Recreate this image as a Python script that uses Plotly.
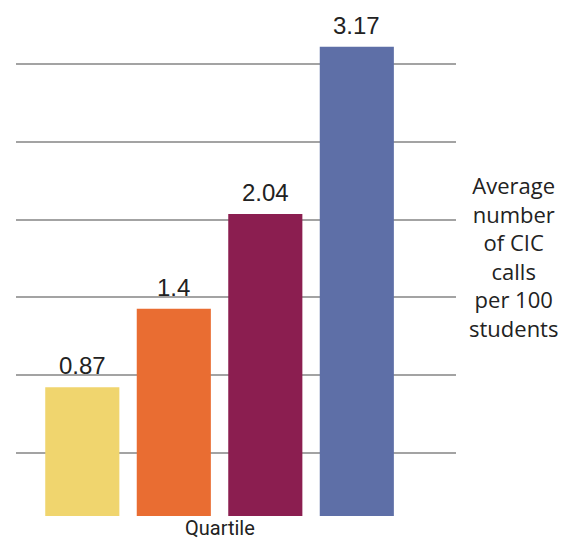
import plotly.graph_objects as go

categories = ["Q1", "Q2", "Q3", "Q4"]
values = [0.87, 1.4, 2.04, 3.17]
value_labels = ["0.87", "1.4", "2.04", "3.17"]
colors = ["#F0D56E", "#E96D32", "#8B1E50", "#5E6FA7"]

fig = go.Figure(
    go.Bar(
        x=categories,
        y=values,
        marker=dict(color=colors, line=dict(width=0)),
        width=0.81,
        hoverinfo="skip",
    )
)

annotations = []
for c, v, t in zip(categories, values, value_labels):
    annotations.append(
        dict(
            text=t,
            x=c,
            y=v,
            xref="x",
            yref="y",
            xanchor="center",
            yanchor="bottom",
            yshift=6,
            showarrow=False,
            font=dict(family="Liberation Sans, Arial, sans-serif", size=24, color="#222222"),
        )
    )

annotations += [
    dict(
        text="Quartile",
        x=1.5,
        xref="x",
        y=0,
        yref="paper",
        xanchor="center",
        yanchor="top",
        yshift=2,
        showarrow=False,
        font=dict(family="Roboto, sans-serif", size=20, color="#222222"),
    ),
    dict(
        text="Average<br>number<br>of CIC<br>calls<br>per 100<br>students",
        x=1.13,
        xref="paper",
        y=0.513,
        yref="paper",
        xanchor="center",
        yanchor="middle",
        align="center",
        showarrow=False,
        font=dict(family="Open Sans, sans-serif", size=22, color="#222222"),
    ),
]

fig.update_layout(
    width=574,
    height=539,
    margin=dict(l=8, r=126, t=2, b=31),
    paper_bgcolor="white",
    plot_bgcolor="white",
    showlegend=False,
    xaxis=dict(
        type="category",
        range=[-0.7246, 4.084],
        showticklabels=False,
        showgrid=False,
        zeroline=False,
        showline=False,
        ticks="",
    ),
    yaxis=dict(
        range=[0, 3.419],
        tick0=0.428,
        dtick=0.525,
        showticklabels=False,
        showgrid=True,
        gridcolor="#A3A3A3",
        gridwidth=1.5,
        zeroline=False,
        showline=False,
        ticks="",
    ),
    annotations=annotations,
)

fig.write_html("out.html")
